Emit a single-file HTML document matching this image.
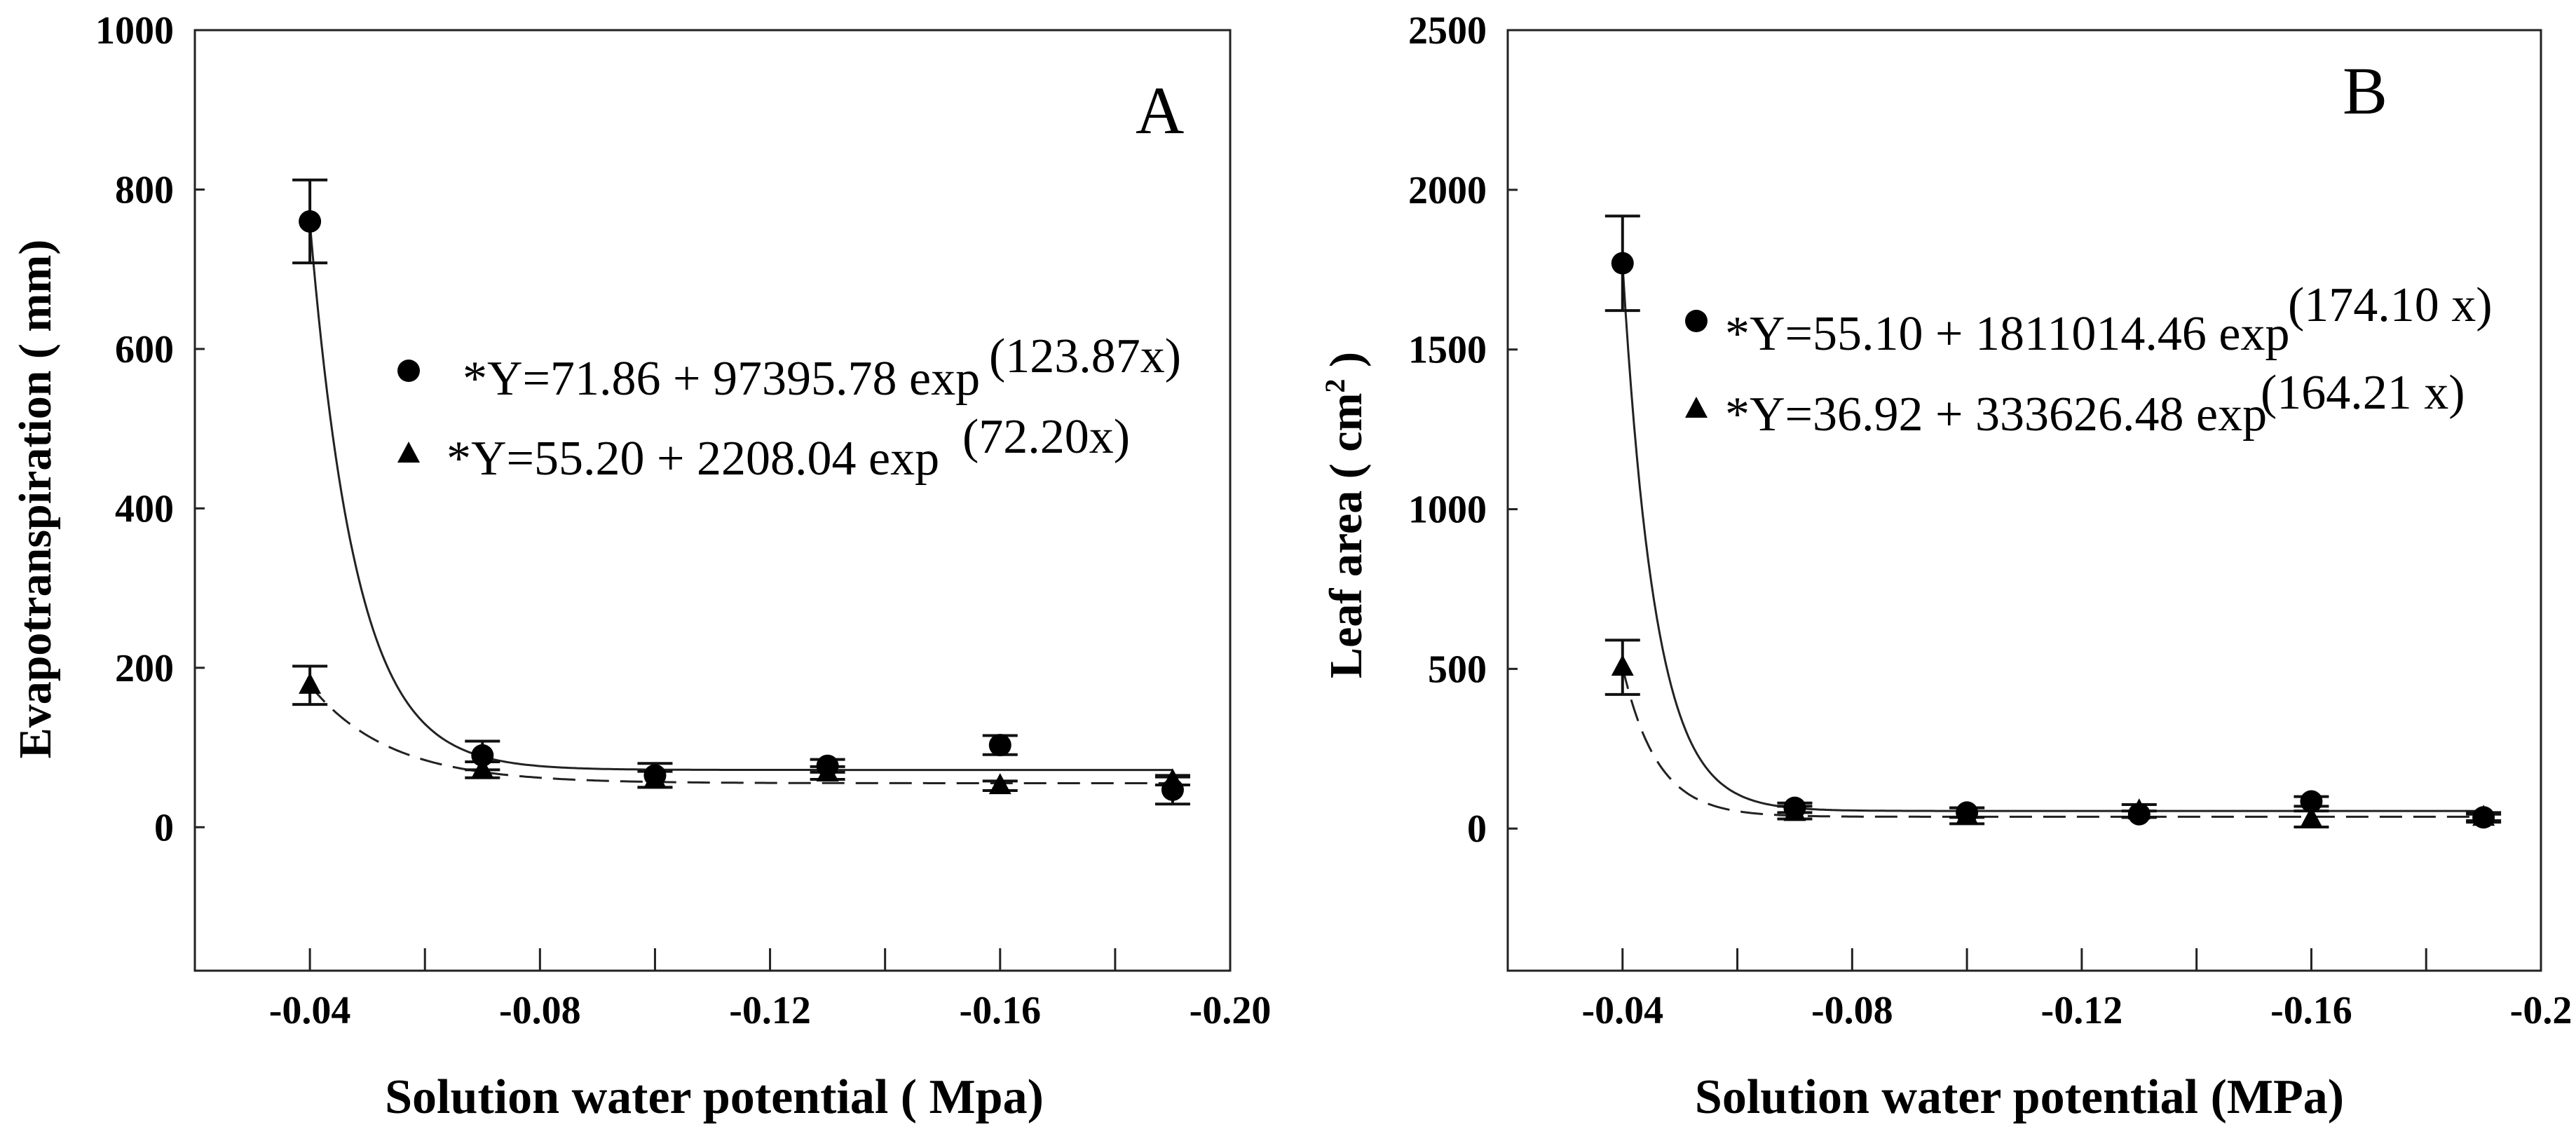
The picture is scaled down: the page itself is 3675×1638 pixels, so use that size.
<!DOCTYPE html>
<html><head><meta charset="utf-8"><style>
html,body{margin:0;padding:0;background:#fff;}
svg{display:block;font-family:"Liberation Serif",serif;}
</style></head><body>
<svg id="fig" width="3675" height="1638" viewBox="0 0 3675 1638"></svg>
<script>
// ---- data ----
const xCats = [-0.04, -0.07, -0.10, -0.13, -0.16, -0.19];
const aCircle = [760, 90, 65, 77, 103, 47];
const aCircleErr = [52, 18, 15, 8, 12, 18];
const aTri = [178, 72, 60, 68, 52, 58];
const aTriErr = [24, 10, 10, 8, 6, 5];
const bCircle = [1770, 65, 50, 45, 85, 35];
const bCircleErr = [148, 15, 15, 10, 15, 10];
const bTri = [505, 50, 40, 55, 30, 35];
const bTriErr = [85, 20, 25, 20, 25, 15];
const aFitCircle = [71.86, 97395.78, 123.87];
const aFitTri = [55.20, 2208.04, 72.20];
const bFitCircle = [55.10, 1811014.46, 174.10];
const bFitTri = [36.92, 333626.48, 164.21];
const xTicks = [-0.04, -0.08, -0.12, -0.16, -0.20];
const xTickLabelsA = ["-0.04", "-0.08", "-0.12", "-0.16", "-0.20"];
const xTickLabelsB = ["-0.04", "-0.08", "-0.12", "-0.16", "-0.2"];
const yTicksA = [0, 200, 400, 600, 800, 1000];
const yTicksB = [0, 500, 1000, 1500, 2000, 2500];

const NS = "http://www.w3.org/2000/svg";
const svg = document.getElementById("fig");
function mk(tag, attrs, parent, text) {
  const e = document.createElementNS(NS, tag);
  for (const k in attrs) e.setAttribute(k, attrs[k]);
  if (text !== undefined) e.textContent = text;
  (parent || svg).appendChild(e);
  return e;
}

function panel(p) {
  const g = mk("g", {});
  
  
  const X = v => p.L + (v - p.x0) / (p.x1 - p.x0) * (p.R - p.L);
  const Y = v => p.B - (v - p.y0) / (p.y1 - p.y0) * (p.B - p.T);
  const frame = mk("rect", {x: p.L, y: p.T, width: p.R - p.L, height: p.B - p.T, fill: "none", stroke: "#222", "stroke-width": 3}, g);
  
  
  // x ticks every 0.02
  for (let i = 1; i <= 8; i++) {
    const v = -0.02 - 0.02 * i;
    const t = mk("line", {x1: X(v), x2: X(v), y1: p.B, y2: p.B - 32, stroke: "#222", "stroke-width": 3}, g);
    
    
  }
  xTicks.forEach((v, i) => {
    const t = mk("text", {x: X(v), y: 1460, "text-anchor": "middle", "font-size": 56, "font-weight": "bold"}, g, p.xLabels[i]);
    
    
  });
  p.yTicks.forEach(v => {
    const t = mk("line", {x1: p.L, x2: p.L + 14, y1: Y(v), y2: Y(v), stroke: "#222", "stroke-width": 3}, g);
    
    
    const l = mk("text", {x: p.L - 30, y: Y(v) + 19, "text-anchor": "end", "font-size": 56, "font-weight": "bold"}, g, String(v));
    
    
  });
  // fit curves
  function curve(par, dashed, nm) {
    let d = "";
    for (let k = 0; k <= 300; k++) {
      const x = -0.04 + (-0.15) * k / 300;
      const y = par[0] + par[1] * Math.exp(par[2] * x);
      d += (k ? "L" : "M") + X(x).toFixed(1) + " " + Y(y).toFixed(1);
    }
    const c = mk("path", {d: d, fill: "none", stroke: "#222", "stroke-width": 3, "stroke-dasharray": dashed ? "32 16" : "none"}, g);
    
    
  }
  curve(p.fitC, false, 'circle-fit-curve');
  curve(p.fitT, true, 'triangle-fit-curve');
  function err(vals, errs, nm) {
    vals.forEach((v, i) => {
      const x = X(xCats[i]);
      const e = mk("path", {d: `M${x} ${Y(v + errs[i])}V${Y(v - errs[i])}M${x - 25} ${Y(v + errs[i])}h50M${x - 25} ${Y(v - errs[i])}h50`, stroke: "#111", "stroke-width": 4, fill: "none"}, g);
      
      
    });
  }
  err(p.tri, p.triErr, 'triangle-error-bar');
  err(p.circ, p.circErr, 'circle-error-bar');
  p.tri.forEach((v, i) => {
    const x = X(xCats[i]), y = Y(v);
    const m = mk("path", {d: `M${x} ${y - 18}L${x + 16} ${y + 12}L${x - 16} ${y + 12}Z`, fill: "#000"}, g);
    
    
  });
  p.circ.forEach((v, i) => {
    const m = mk("circle", {cx: X(xCats[i]), cy: Y(v), r: 16, fill: "#000"}, g);
    
    
  });
}

panel({id: "a", L: 278, R: 1755, T: 43, B: 1385, x0: -0.02, x1: -0.20, y0: -180, y1: 1000,
  xLabels: xTickLabelsA, yTicks: yTicksA, circ: aCircle, circErr: aCircleErr, tri: aTri, triErr: aTriErr,
  fitC: aFitCircle, fitT: aFitTri});
panel({id: "b", L: 2151, R: 3625, T: 43, B: 1385, x0: -0.02, x1: -0.20, y0: -445, y1: 2500,
  xLabels: xTickLabelsB, yTicks: yTicksB, circ: bCircle, circErr: bCircleErr, tri: bTri, triErr: bTriErr,
  fitC: bFitCircle, fitT: bFitTri});
</script>
<svg width="3675" height="1638" style="position:absolute;left:0;top:0;font-family:'Liberation Serif',serif">
  <text x="1620" y="190" font-size="96">A</text>
  <text x="3342" y="162" font-size="96">B</text>
  <text transform="translate(72,712) rotate(-90)" text-anchor="middle" font-size="66" font-weight="bold">Evapotranspiration ( mm)</text>
  <text transform="translate(1942,735) rotate(-90)" text-anchor="middle" font-size="66" font-weight="bold">Leaf area ( cm<tspan font-size="40" dy="-24">2</tspan><tspan dy="24"> )</tspan></text>
  <text x="1019" y="1588" text-anchor="middle" font-size="70" font-weight="bold">Solution water potential ( Mpa)</text>
  <text x="2881" y="1588" text-anchor="middle" font-size="70" font-weight="bold">Solution water potential (MPa)</text>
  <g>
    <circle cx="583" cy="529" r="16" fill="#000"/>
    <text x="660" y="563" font-size="70">*Y=71.86 + 97395.78 exp <tspan x="1411" y="531">(123.87x)</tspan></text>
    <path d="M583 630L599 660L567 660Z" fill="#000"/>
    <text x="637" y="677" font-size="70">*Y=55.20 + 2208.04 exp <tspan x="1373" y="646">(72.20x)</tspan></text>
  </g>
  <g>
    <circle cx="2420" cy="458" r="16" fill="#000"/>
    <text x="2461" y="499" font-size="70">*Y=55.10 + 1811014.46 exp<tspan x="3264" y="458">(174.10 x)</tspan></text>
    <path d="M2420 566L2436 596L2404 596Z" fill="#000"/>
    <text x="2461" y="614" font-size="70">*Y=36.92 + 333626.48 exp<tspan x="3225" y="583">(164.21 x)</tspan></text>
  </g>
</svg>
</body></html>
